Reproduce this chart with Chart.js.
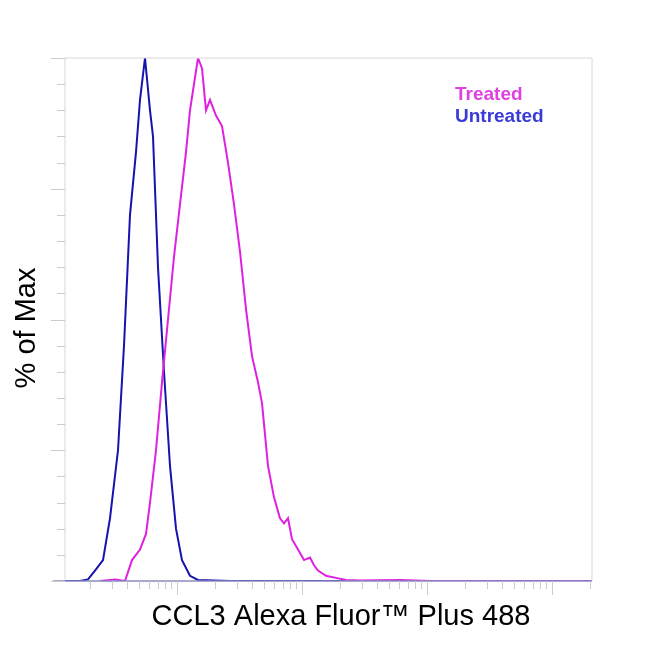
<!DOCTYPE html>
<html><head><meta charset="utf-8">
<script src="https://cdn.jsdelivr.net/npm/chart.js@4"></script>
<style>body{margin:0;background:#fff}#c{display:block}</style>
</head><body>
<canvas id="c" width="650" height="650"></canvas>
<script>
// 데이터: x는 log10(채널값), y는 % of Max
var untreatedLog = [2.104, 2.224, 2.288, 2.344, 2.408, 2.464, 2.528, 2.576, 2.624, 2.672, 2.704, 2.744, 2.784, 2.808, 2.848, 2.896, 2.944, 2.992, 3.04, 3.104, 3.168, 3.424, 6.32];
var untreatedPct = [0, 0, 0.3, 2, 4, 12, 25, 45, 70, 82, 92, 100, 90, 85, 60, 40, 22, 10, 4, 1, 0.2, 0, 0];
var treatedLog = [2.384, 2.504, 2.584, 2.64, 2.704, 2.752, 2.784, 2.832, 2.88, 2.928, 2.976, 3.024, 3.072, 3.104, 3.136, 3.168, 3.2, 3.232, 3.264, 3.312, 3.36, 3.408, 3.456, 3.504, 3.552, 3.6, 3.648, 3.68, 3.728, 3.776, 3.824, 3.856, 3.888, 3.92, 3.968, 4.016, 4.064, 4.096, 4.128, 4.192, 4.272, 4.352, 4.464, 4.784, 5.024, 6.32];
var treatedPct = [0, 0.3, 0, 4, 6, 9, 15, 25, 38, 50, 62, 72, 82, 90, 95, 100, 98, 90, 92, 89, 87, 80, 72, 63, 52, 43, 38, 34, 22, 16, 12, 11, 12, 8, 6, 4, 4.5, 3, 2, 1, 0.6, 0.2, 0.1, 0.2, 0, 0];
var decades = [2, 3, 4, 5, 6];
var yTicks = [0, 5, 10, 15, 20, 25, 30, 35, 40, 45, 50, 55, 60, 65, 70, 75, 80, 85, 90, 95, 100];

function pts(lx, ys) {
  return lx.map((l, i) => ({ x: Math.pow(10, l), y: ys[i] }));
}

// 축 눈금, 테두리, 제목, 범례 그리기
var decor = {
  id: "decor",
  afterDraw(chart) {
    var ctx = chart.ctx, a = chart.chartArea;
    var xs = chart.scales.x, ys = chart.scales.y;
    ctx.save();
    ctx.strokeStyle = "#d8d8d8";
    ctx.lineWidth = 1;
    ctx.beginPath();
    ctx.moveTo(a.left, a.bottom); ctx.lineTo(a.left, a.top);
    ctx.lineTo(a.right, a.top); ctx.lineTo(a.right, a.bottom);
    ctx.stroke();
    ctx.strokeStyle = "#8a8ac0";
    ctx.lineWidth = 1.5;
    ctx.beginPath(); ctx.moveTo(a.left - 12, a.bottom); ctx.lineTo(a.right, a.bottom); ctx.stroke();
    // y 눈금
    ctx.strokeStyle = "#cccccc";
    ctx.lineWidth = 1;
    yTicks.forEach((v) => {
      var p = Math.round(ys.getPixelForValue(v)) + 0.5;
      var len = v % 25 === 0 ? 14 : 8;
      ctx.beginPath(); ctx.moveTo(a.left - len, p); ctx.lineTo(a.left, p); ctx.stroke();
    });
    // x 눈금 (로그)
    decades.forEach((d) => {
      for (var m = 1; m <= 9; m++) {
        var v = m * Math.pow(10, d);
        if (v < xs.min || v > xs.max) continue;
        var p = Math.round(xs.getPixelForValue(v)) + 0.5;
        var len = m === 1 ? 14 : 8;
        ctx.beginPath(); ctx.moveTo(p, a.bottom); ctx.lineTo(p, a.bottom + len); ctx.stroke();
      }
    });
    ctx.fillStyle = "#000";
    ctx.font = "29px Arial, 'Liberation Sans', sans-serif";
    ctx.textAlign = "center";
    ctx.textBaseline = "middle";
    ctx.fillText("CCL3 Alexa Fluor\u2122 Plus 488", 341, 617);
    ctx.translate(27, 328);
    ctx.rotate(-Math.PI / 2);
    ctx.fillText("% of Max", 0, 0);
    ctx.restore();
    ctx.save();
    ctx.font = "bold 19px Arial, 'Liberation Sans', sans-serif";
    ctx.textBaseline = "middle";
    ctx.fillStyle = "#e040e0";
    ctx.fillText("Treated", 455, 95);
    ctx.fillStyle = "#3a3ad8";
    ctx.fillText("Untreated", 455, 117);
    ctx.restore();
  },
};

new Chart(document.getElementById("c"), {
  type: "line",
  data: {
    datasets: [
      { label: "Treated", data: pts(treatedLog, treatedPct), borderColor: "#e020e0", borderWidth: 2, pointRadius: 0, tension: 0 },
      { label: "Untreated", data: pts(untreatedLog, untreatedPct), borderColor: "#1414b0", borderWidth: 2, pointRadius: 0, tension: 0 },
    ],
  },
  options: {
    responsive: false,
    animation: false,
    layout: { padding: { left: 65, right: 58, top: 58, bottom: 69 } },
    plugins: { legend: { display: false }, tooltip: { enabled: false } },
    scales: {
      x: { type: "logarithmic", min: Math.pow(10, 2.104), max: Math.pow(10, 6.32), display: false },
      y: { min: 0, max: 100, display: false },
    },
  },
  plugins: [decor],
});
</script>
</body></html>
